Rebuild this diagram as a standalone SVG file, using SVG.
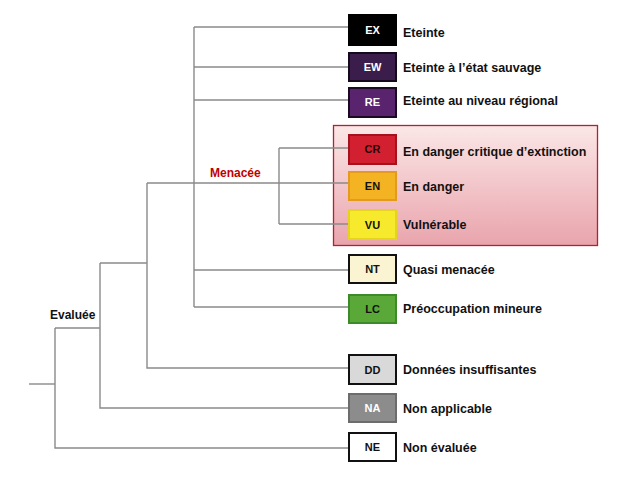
<svg xmlns="http://www.w3.org/2000/svg" width="640" height="479" viewBox="0 0 640 479">
<style>
.ln{fill:none;stroke:#8a8a8a;stroke-width:1.4}
.bx{stroke-width:2}
.code{font-family:"Liberation Sans",Arial,sans-serif;font-weight:bold;font-size:11px;text-anchor:middle}
.lbl{font-family:"Liberation Sans",Arial,sans-serif;font-weight:bold;font-size:12.5px;fill:#111}
.grp{font-family:"Liberation Sans",Arial,sans-serif;font-weight:bold;font-size:12px}
</style>
<defs>
<linearGradient id="pink" x1="0" y1="0" x2="0" y2="1">
<stop offset="0" stop-color="#fbe7e7"/>
<stop offset="1" stop-color="#e9a4ac"/>
</linearGradient>
</defs>
<rect width="640" height="479" fill="#fff"/>
<g id="menacee-zone">
<rect x="333.5" y="125.5" width="264" height="120" fill="url(#pink)" stroke="#b3202e" stroke-width="1.3"/>
</g>
<g id="connectors">
<path class="ln" d="M194 27V307M194 27H348M194 67H348M194 100H348M194 183H348M194 270H348M194 307H348"/>
<path class="ln" d="M279 148V224M279 148H348M279 224H348"/>
<path class="ln" d="M147 183H194M147 183V368H348"/>
<path class="ln" d="M100 263H147M100 263V408H348"/>
<path class="ln" d="M55 328H100M55 328V448H348"/>
<path class="ln" d="M29 384H55"/>
</g>
<g id="label-evaluee"><text class="grp" x="50" y="319" fill="#111">Evaluée</text></g>
<g id="label-menacee"><text class="grp" x="210" y="177" fill="#c00000">Menacée</text></g>
<g id="EX"><rect class="bx" x="349" y="15" width="47" height="30" fill="#000" stroke="#000"/><text class="code" x="372.5" y="34" fill="#fff">EX</text><text class="lbl" x="403" y="37">Eteinte</text></g>
<g id="EW"><rect class="bx" x="349" y="53" width="47" height="28" fill="#3b1d4c" stroke="#150a1c"/><text class="code" x="372.5" y="71" fill="#fff">EW</text><text class="lbl" x="403" y="71.5">Eteinte à l’état sauvage</text></g>
<g id="RE"><rect class="bx" x="349" y="88" width="47" height="29" fill="#5a236e" stroke="#1c0a22"/><text class="code" x="372.5" y="106" fill="#fff">RE</text><text class="lbl" x="403" y="105">Eteinte au niveau régional</text></g>
<g id="CR"><rect class="bx" x="349" y="135" width="47" height="29" fill="#d32030" stroke="#a5121e"/><text class="code" x="372.5" y="153" fill="#2a0505">CR</text><text class="lbl" x="403" y="156">En danger critique d’extinction</text></g>
<g id="EN"><rect class="bx" x="349" y="172" width="47" height="28" fill="#f3b322" stroke="#e49a1c"/><text class="code" x="372.5" y="190" fill="#111">EN</text><text class="lbl" x="403" y="191">En danger</text></g>
<g id="VU"><rect class="bx" x="349" y="210" width="47" height="29" fill="#f7ea2c" stroke="#e6d41c"/><text class="code" x="372.5" y="228.5" fill="#111">VU</text><text class="lbl" x="403" y="229">Vulnérable</text></g>
<g id="NT"><rect class="bx" x="349" y="255" width="47" height="28" fill="#fbf4d2" stroke="#111"/><text class="code" x="372.5" y="273" fill="#111">NT</text><text class="lbl" x="403" y="274">Quasi menacée</text></g>
<g id="LC"><rect class="bx" x="349" y="295" width="47" height="28" fill="#5aa838" stroke="#3d8a28"/><text class="code" x="372.5" y="313" fill="#111">LC</text><text class="lbl" x="403" y="313">Préoccupation mineure</text></g>
<g id="DD"><rect class="bx" x="349" y="355" width="47" height="29" fill="#d9d9d9" stroke="#111"/><text class="code" x="372.5" y="373.5" fill="#111">DD</text><text class="lbl" x="403" y="374">Données insuffisantes</text></g>
<g id="NA"><rect class="bx" x="349" y="394" width="47" height="28" fill="#8c8c8c" stroke="#6c6c6c"/><text class="code" x="372.5" y="412" fill="#fff">NA</text><text class="lbl" x="403" y="413">Non applicable</text></g>
<g id="NE"><rect class="bx" x="349" y="433" width="47" height="28" fill="#fff" stroke="#111"/><text class="code" x="372.5" y="451" fill="#111">NE</text><text class="lbl" x="403" y="452">Non évaluée</text></g>
</svg>
